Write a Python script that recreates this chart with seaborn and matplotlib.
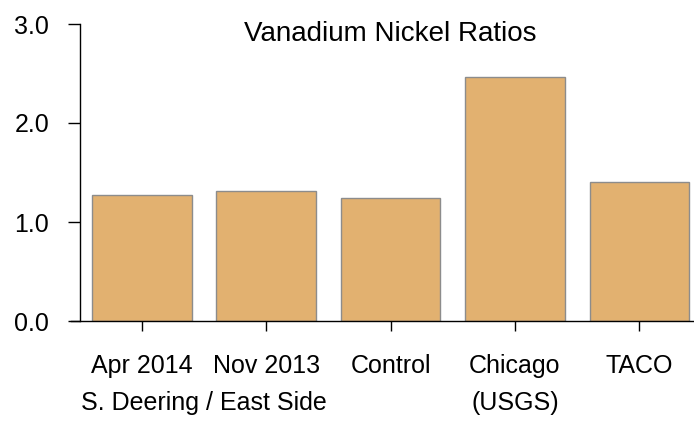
import matplotlib
matplotlib.use("Agg")
import matplotlib.pyplot as plt
import seaborn as sns
import pandas as pd

sites = ["Apr 2014", "Nov 2013", "Control", "Chicago", "TACO"]
ratios = [1.27, 1.31, 1.24, 2.46, 1.40]
# second line of labels: (x position in category units, text)
sublabels = [(0.5, "S. Deering / East Side"), (3, "(USGS)")]

sns.set_style("ticks")
plt.rcParams['font.family'] = ['Liberation Sans', 'DejaVu Sans']
plt.rcParams['text.color'] = 'black'
plt.rcParams['xtick.color'] = 'black'
plt.rcParams['ytick.color'] = 'black'
plt.rcParams['axes.edgecolor'] = 'black'

df = pd.DataFrame({"site": sites, "ratio": ratios})

fig = plt.figure(figsize=(6.94, 4.23), dpi=100)
ax = fig.add_axes([71 / 694, 102 / 423, 623 / 694, 297 / 423])
sns.barplot(data=df, x="site", y="ratio", color="#E2B170", saturation=1,
            width=0.8, edgecolor="#8c8c8c", linewidth=1, ax=ax)

ax.set_xlim(-0.57, 4.44)
ax.set_ylim(0, 3)
ax.set_yticks([0, 1, 2, 3])
ax.set_yticklabels(["0.0", "1.0", "2.0", "3.0"])
ax.set_xlabel("")
ax.set_ylabel("")
ax.spines['left'].set_position(('data', -0.5))
ax.spines['top'].set_visible(False)
ax.spines['right'].set_visible(False)
for s in ax.spines.values():
    s.set_linewidth(1)
ax.tick_params(axis='y', direction='out', length=9, pad=13, labelsize=18, width=1)
ax.tick_params(axis='x', direction='out', length=7, pad=17, labelsize=18, width=1)

trans = ax.get_xaxis_transform()
for xpos, txt in sublabels:
    ax.text(xpos, -89 / 297, txt, transform=trans, ha='center', va='baseline',
            fontsize=18)

ax.text(2, 1.01, "Vanadium Nickel Ratios", transform=trans, ha='center',
        va='top', fontsize=20)

fig.savefig("out.png", dpi=100)
